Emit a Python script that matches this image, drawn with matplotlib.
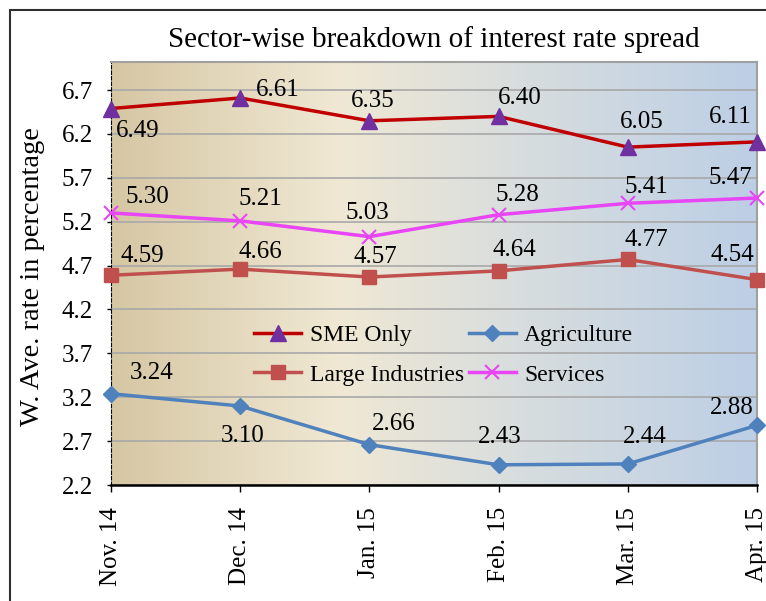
import matplotlib as mpl
mpl.use('Agg')
import matplotlib.pyplot as plt
import numpy as np
from matplotlib.colors import LinearSegmentedColormap
from matplotlib.patches import Rectangle

plt.rcParams['font.family'] = 'Liberation Serif'

months = ['Nov. 14', 'Dec. 14', 'Jan. 15', 'Feb. 15', 'Mar. 15', 'Apr. 15']
sme = [6.49, 6.61, 6.35, 6.40, 6.05, 6.11]
agriculture = [3.24, 3.10, 2.66, 2.43, 2.44, 2.88]
large_ind = [4.59, 4.66, 4.57, 4.64, 4.77, 4.54]
services = [5.30, 5.21, 5.03, 5.28, 5.41, 5.47]
yticks = [2.2, 2.7, 3.2, 3.7, 4.2, 4.7, 5.2, 5.7, 6.2, 6.7]

# label offsets in pixels (dx right, dy up)
off_sme = [(27, -22), (38, 8), (3, 20), (21, 18), (14, 25), (-27, 25)]
off_agr = [(41, 21), (2, -30), (24, 21), (1, 28), (17, 27), (-25, 17)]
off_lrg = [(31, 19), (20, 17), (6, 20), (16, 21), (19, 19), (-25, 25)]
off_srv = [(36, 16), (20, 22), (-2, 24), (19, 20), (19, 16), (-27, 20)]

fig = plt.figure(figsize=(7.66, 6.01), dpi=100)
ax = fig.add_axes([111/766, 1-485/601, 646/766, 423/601])

x = np.arange(len(months))

# gradient background
cmap = LinearSegmentedColormap.from_list('bg', [
    (0.0, (0.84, 0.78, 0.64)),
    (0.35, (0.94, 0.91, 0.83)),
    (0.62, (0.85, 0.87, 0.87)),
    (1.0, (0.74, 0.81, 0.90))])
grad = np.tile(np.linspace(0, 1, 256), (2, 1))
ax.imshow(grad, cmap=cmap, aspect='auto', extent=[0, 5, 2.2, 7.02],
          zorder=0, interpolation='bicubic')

ax.set_xlim(0, 5)
ax.set_ylim(2.2, 7.02)
ax.set_yticks(yticks)
ax.set_yticklabels([f'{v:.1f}' for v in yticks], fontsize=18)
ax.set_xticks(x)
ax.set_xticklabels(months, rotation=90, fontsize=18)
ax.grid(axis='y', color='#A8A8A8', lw=1.2, zorder=1)
ax.tick_params(axis='y', length=3, width=1, color='black', pad=10)
ax.tick_params(axis='x', length=5, width=1, color='black', pad=11)

ax.spines['left'].set_linestyle((0, (3, 2)))
ax.spines['left'].set_color('black')
ax.spines['bottom'].set_color('black')
ax.spines['bottom'].set_linewidth(1.8)
for s in ['top', 'right']:
    ax.spines[s].set_color('#A0A0A0')
    ax.spines[s].set_linewidth(1.5)

l1, = ax.plot(x, sme, color='#C00000', lw=2.5, marker='^', ms=11,
              mfc='#7030A0', mec='#7030A0', clip_on=False, zorder=5, label='SME Only')
l2, = ax.plot(x, agriculture, color='#4F81BD', lw=2.5, marker='D', ms=8,
              mfc='#4F81BD', mec='#4F81BD', clip_on=False, zorder=5, label='Agriculture')
l3, = ax.plot(x, large_ind, color='#C0504D', lw=2.5, marker='s', ms=10,
              mfc='#C0504D', mec='#C0504D', clip_on=False, zorder=5, label='Large Industries')
l4, = ax.plot(x, services, color='#E845F5', lw=2.5, marker='x', ms=10, mew=1.5,
              clip_on=False, zorder=5, label='Services')

for vals, offs in [(sme, off_sme), (agriculture, off_agr),
                   (large_ind, off_lrg), (services, off_srv)]:
    for xi, v, (dx, dy) in zip(x, vals, offs):
        ax.annotate(f'{v:.2f}', (xi, v), xytext=(dx*0.72, dy*0.72),
                    textcoords='offset points', ha='center', va='center',
                    fontsize=18, annotation_clip=False, zorder=6)

# column-wise fill: row 1 = SME, Agriculture; row 2 = Large, Services
ax.legend(handles=[l1, l3, l2, l4], ncol=2, frameon=False, fontsize=17,
          loc='center', bbox_to_anchor=(0.515, 0.307), handlelength=2.0,
          columnspacing=0.2, handletextpad=0.35, labelspacing=0.75, borderpad=0)

fig.text(434/766, 1-40/601, 'Sector-wise breakdown of interest rate spread',
         ha='center', va='center', fontsize=21)
fig.text(33/766, 1-277/601, 'W. Ave. rate in percentage', rotation=90,
         ha='center', va='center', fontsize=20.5)

fig.add_artist(Rectangle((10/766, -0.1), 1.5, 1.1 - 10/601,
                         transform=fig.transFigure, fill=False,
                         ec='#303030', lw=1.5))

fig.savefig('out.png', dpi=100)
